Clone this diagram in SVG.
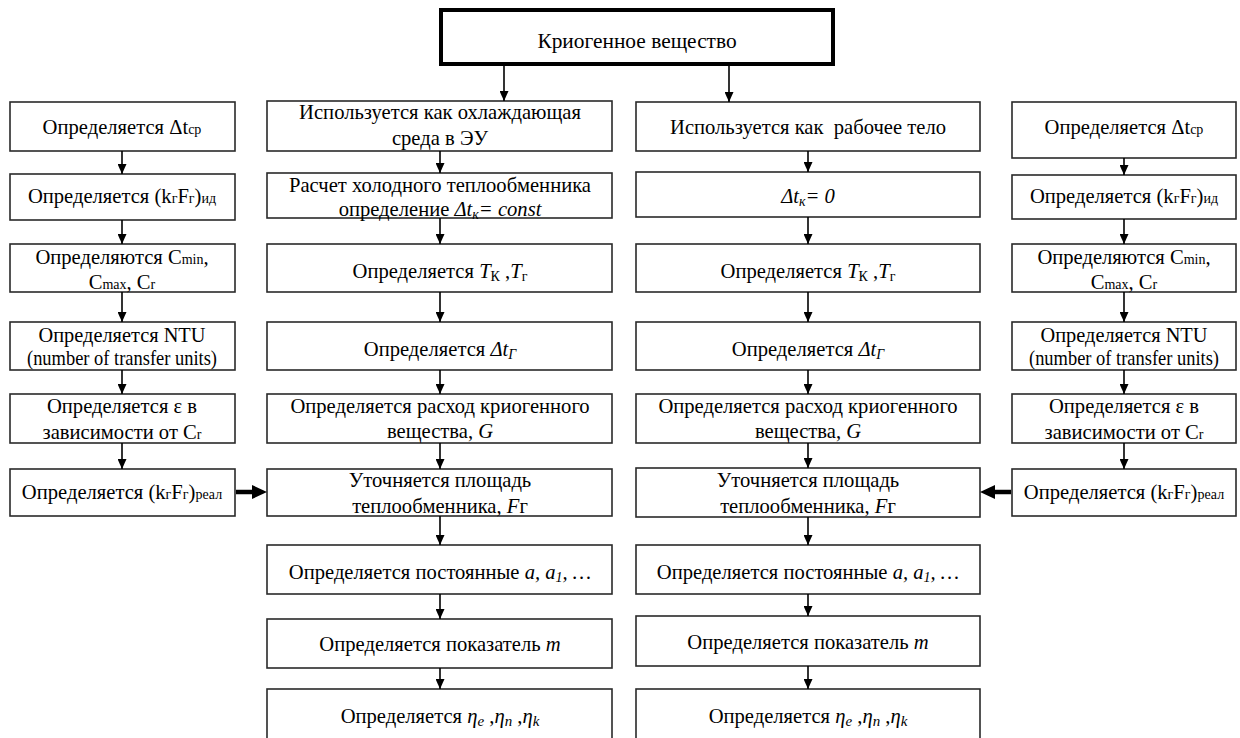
<svg xmlns="http://www.w3.org/2000/svg" width="1240" height="738" viewBox="0 0 1240 738">
<style>
  .box { fill: #ffffff; stroke: #2a2a2a; stroke-width: 1.6; }
  .top { fill: #ffffff; stroke: #000000; stroke-width: 4; }
  text { font-family: "Liberation Serif", "Times New Roman", "DejaVu Serif", serif; font-size: 20.6px; fill: #000000; text-anchor: middle; }
  .t { font-size: 21.4px; }
  .s { font-size: 14px; }
  .e { font-size: 15px; }
  .i { font-style: italic; }
  .c { stroke: #000000; stroke-width: 1.6; fill: none; }
  .thick { stroke: #000000; stroke-width: 4.5; fill: none; }
</style>
<defs>
  <marker id="ah" markerUnits="userSpaceOnUse" markerWidth="10" markerHeight="9" refX="10" refY="4.5" orient="auto">
    <path d="M0,0 L10,4.5 L0,9 z" fill="#000000"/>
  </marker>
  <marker id="ahb" markerUnits="userSpaceOnUse" markerWidth="15" markerHeight="14" refX="3" refY="7" orient="auto">
    <path d="M0,0 L15,7 L0,14 z" fill="#000000"/>
  </marker>
</defs>
<rect width="1240" height="738" fill="#ffffff"/>

<g id="n-top">
  <rect class="top" x="441" y="10" width="392" height="54"/>
  <text class="t" x="637" y="48">Криогенное вещество</text>
</g>

<!-- Left column -->
<g id="n-l1">
  <rect class="box" x="10" y="102" width="225" height="49"/>
  <text x="122" y="134">Определяется Δt<tspan class="s">ср</tspan></text>
</g>
<g id="n-l2">
  <rect class="box" x="10" y="174" width="225" height="46"/>
  <text x="122" y="203">Определяется (k<tspan class="s">г</tspan>F<tspan class="s">г</tspan>)<tspan class="s">ид</tspan></text>
</g>
<g id="n-l3">
  <rect class="box" x="10" y="244" width="225" height="48"/>
  <text x="122" y="264">Определяются C<tspan class="s">min</tspan>,</text>
  <text x="122" y="289">C<tspan class="s">max</tspan>, C<tspan class="s">r</tspan></text>
</g>
<g id="n-l4">
  <rect class="box" x="10" y="322" width="225" height="48"/>
  <text x="122" y="342" textLength="167" lengthAdjust="spacingAndGlyphs">Определяется NTU</text>
  <text x="122" y="365" textLength="190" lengthAdjust="spacingAndGlyphs">(number of transfer units)</text>
</g>
<g id="n-l5">
  <rect class="box" x="10" y="394" width="225" height="49"/>
  <text x="122" y="413">Определяется ε в</text>
  <text x="122" y="439">зависимости от C<tspan class="s">r</tspan></text>
</g>
<g id="n-l6">
  <rect class="box" x="10" y="469" width="225" height="47"/>
  <text x="122" y="499">Определяется (k<tspan class="s">г</tspan>F<tspan class="s">г</tspan>)<tspan class="s">реал</tspan></text>
</g>

<!-- Center-left column -->
<g id="n-a1">
  <rect class="box" x="267" y="101" width="345" height="50"/>
  <text x="440" y="119">Используется как охлаждающая</text>
  <text x="440" y="145">среда в ЭУ</text>
</g>
<g id="n-a2">
  <rect class="box" x="267" y="173" width="345" height="45"/>
  <text x="440" y="192">Расчет холодного теплообменника</text>
  <text x="440" y="216">определение <tspan class="i">Δt</tspan><tspan class="i s" dy="3">к</tspan><tspan class="i" dy="-3">= const</tspan></text>
</g>
<g id="n-a3">
  <rect class="box" x="267" y="244" width="345" height="48"/>
  <text x="440" y="278">Определяется <tspan class="i">T</tspan><tspan class="s" dy="3">К</tspan><tspan dy="-3"> ,</tspan><tspan class="i">T</tspan><tspan class="s" dy="3">г</tspan></text>
</g>
<g id="n-a4">
  <rect class="box" x="267" y="322" width="345" height="48"/>
  <text x="440" y="356">Определяется <tspan class="i">Δt</tspan><tspan class="i s" dy="3">Γ</tspan></text>
</g>
<g id="n-a5">
  <rect class="box" x="267" y="394" width="345" height="49"/>
  <text x="440" y="413">Определяется расход криогенного</text>
  <text x="440" y="438">вещества, <tspan class="i">G</tspan></text>
</g>
<g id="n-a6">
  <rect class="box" x="267" y="469" width="345" height="47"/>
  <text x="440" y="487">Уточняется площадь</text>
  <text x="440" y="513">теплообменника, <tspan class="i">F</tspan>г</text>
</g>
<g id="n-a7">
  <rect class="box" x="267" y="545" width="345" height="49"/>
  <text x="440" y="579">Определяется постоянные <tspan class="i">a, a</tspan><tspan class="i s" dy="3">1</tspan><tspan class="i" dy="-3">, …</tspan></text>
</g>
<g id="n-a8">
  <rect class="box" x="267" y="619" width="345" height="49"/>
  <text x="440" y="651">Определяется показатель <tspan class="i">m</tspan></text>
</g>
<g id="n-a9">
  <rect class="box" x="267" y="689" width="345" height="52"/>
  <text x="440" y="723">Определяется <tspan class="i">η</tspan><tspan class="i e" dy="3">e</tspan><tspan dy="-3"> ,</tspan><tspan class="i">η</tspan><tspan class="i e" dy="3">n</tspan><tspan dy="-3"> ,</tspan><tspan class="i">η</tspan><tspan class="i e" dy="3">k</tspan></text>
</g>

<!-- Center-right column -->
<g id="n-b1">
  <rect class="box" x="636" y="102" width="344" height="49"/>
  <text x="808" y="134" style="white-space:pre">Используется как  рабочее тело</text>
</g>
<g id="n-b2">
  <rect class="box" x="636" y="172" width="344" height="45"/>
  <text x="808" y="203"><tspan class="i">Δt</tspan><tspan class="i s" dy="3">к</tspan><tspan class="i" dy="-3">= 0</tspan></text>
</g>
<g id="n-b3">
  <rect class="box" x="636" y="244" width="344" height="48"/>
  <text x="808" y="278">Определяется <tspan class="i">T</tspan><tspan class="s" dy="3">К</tspan><tspan dy="-3"> ,</tspan><tspan class="i">T</tspan><tspan class="s" dy="3">г</tspan></text>
</g>
<g id="n-b4">
  <rect class="box" x="636" y="322" width="344" height="48"/>
  <text x="808" y="356">Определяется <tspan class="i">Δt</tspan><tspan class="i s" dy="3">Γ</tspan></text>
</g>
<g id="n-b5">
  <rect class="box" x="636" y="394" width="344" height="49"/>
  <text x="808" y="413">Определяется расход криогенного</text>
  <text x="808" y="438">вещества, <tspan class="i">G</tspan></text>
</g>
<g id="n-b6">
  <rect class="box" x="636" y="468" width="344" height="49"/>
  <text x="808" y="487">Уточняется площадь</text>
  <text x="808" y="513">теплообменника, <tspan class="i">F</tspan>г</text>
</g>
<g id="n-b7">
  <rect class="box" x="636" y="545" width="344" height="49"/>
  <text x="808" y="579">Определяется постоянные <tspan class="i">a, a</tspan><tspan class="i s" dy="3">1</tspan><tspan class="i" dy="-3">, …</tspan></text>
</g>
<g id="n-b8">
  <rect class="box" x="636" y="616" width="344" height="50"/>
  <text x="808" y="649">Определяется показатель <tspan class="i">m</tspan></text>
</g>
<g id="n-b9">
  <rect class="box" x="636" y="689" width="344" height="52"/>
  <text x="808" y="723">Определяется <tspan class="i">η</tspan><tspan class="i e" dy="3">e</tspan><tspan dy="-3"> ,</tspan><tspan class="i">η</tspan><tspan class="i e" dy="3">n</tspan><tspan dy="-3"> ,</tspan><tspan class="i">η</tspan><tspan class="i e" dy="3">k</tspan></text>
</g>

<!-- Right column -->
<g id="n-r1">
  <rect class="box" x="1012" y="102" width="224" height="56"/>
  <text x="1124" y="134">Определяется Δt<tspan class="s">ср</tspan></text>
</g>
<g id="n-r2">
  <rect class="box" x="1012" y="175" width="224" height="44"/>
  <text x="1124" y="203">Определяется (k<tspan class="s">г</tspan>F<tspan class="s">г</tspan>)<tspan class="s">ид</tspan></text>
</g>
<g id="n-r3">
  <rect class="box" x="1012" y="244" width="224" height="48"/>
  <text x="1124" y="264">Определяются C<tspan class="s">min</tspan>,</text>
  <text x="1124" y="289">C<tspan class="s">max</tspan>, C<tspan class="s">r</tspan></text>
</g>
<g id="n-r4">
  <rect class="box" x="1012" y="322" width="224" height="48"/>
  <text x="1124" y="342" textLength="167" lengthAdjust="spacingAndGlyphs">Определяется NTU</text>
  <text x="1124" y="365" textLength="190" lengthAdjust="spacingAndGlyphs">(number of transfer units)</text>
</g>
<g id="n-r5">
  <rect class="box" x="1012" y="394" width="224" height="49"/>
  <text x="1124" y="413">Определяется ε в</text>
  <text x="1124" y="439">зависимости от C<tspan class="s">r</tspan></text>
</g>
<g id="n-r6">
  <rect class="box" x="1012" y="469" width="224" height="47"/>
  <text x="1124" y="499">Определяется (k<tspan class="s">г</tspan>F<tspan class="s">г</tspan>)<tspan class="s">реал</tspan></text>
</g>

<g id="connectors">
  <line class="c" x1="504" y1="66" x2="504" y2="101" marker-end="url(#ah)"/>
  <line class="c" x1="729" y1="66" x2="729" y2="102" marker-end="url(#ah)"/>

  <line class="c" x1="122" y1="151" x2="122" y2="174" marker-end="url(#ah)"/>
  <line class="c" x1="122" y1="220" x2="122" y2="244" marker-end="url(#ah)"/>
  <line class="c" x1="122" y1="292" x2="122" y2="322" marker-end="url(#ah)"/>
  <line class="c" x1="122" y1="370" x2="122" y2="394" marker-end="url(#ah)"/>
  <line class="c" x1="122" y1="443" x2="122" y2="469" marker-end="url(#ah)"/>

  <line class="c" x1="440" y1="151" x2="440" y2="173" marker-end="url(#ah)"/>
  <line class="c" x1="440" y1="218" x2="440" y2="244" marker-end="url(#ah)"/>
  <line class="c" x1="440" y1="292" x2="440" y2="322" marker-end="url(#ah)"/>
  <line class="c" x1="440" y1="370" x2="440" y2="394" marker-end="url(#ah)"/>
  <line class="c" x1="440" y1="443" x2="440" y2="469" marker-end="url(#ah)"/>
  <line class="c" x1="440" y1="516" x2="440" y2="545" marker-end="url(#ah)"/>
  <line class="c" x1="440" y1="594" x2="440" y2="619" marker-end="url(#ah)"/>
  <line class="c" x1="440" y1="668" x2="440" y2="689" marker-end="url(#ah)"/>

  <line class="c" x1="808" y1="151" x2="808" y2="172" marker-end="url(#ah)"/>
  <line class="c" x1="808" y1="217" x2="808" y2="244" marker-end="url(#ah)"/>
  <line class="c" x1="808" y1="292" x2="808" y2="322" marker-end="url(#ah)"/>
  <line class="c" x1="808" y1="370" x2="808" y2="394" marker-end="url(#ah)"/>
  <line class="c" x1="808" y1="443" x2="808" y2="468" marker-end="url(#ah)"/>
  <line class="c" x1="808" y1="517" x2="808" y2="545" marker-end="url(#ah)"/>
  <line class="c" x1="808" y1="594" x2="808" y2="616" marker-end="url(#ah)"/>
  <line class="c" x1="808" y1="666" x2="808" y2="689" marker-end="url(#ah)"/>

  <line class="c" x1="1124" y1="158" x2="1124" y2="175" marker-end="url(#ah)"/>
  <line class="c" x1="1124" y1="219" x2="1124" y2="244" marker-end="url(#ah)"/>
  <line class="c" x1="1124" y1="292" x2="1124" y2="322" marker-end="url(#ah)"/>
  <line class="c" x1="1124" y1="370" x2="1124" y2="394" marker-end="url(#ah)"/>
  <line class="c" x1="1124" y1="443" x2="1124" y2="469" marker-end="url(#ah)"/>

  <line class="thick" x1="236" y1="492" x2="255" y2="492" marker-end="url(#ahb)"/>
  <line class="thick" x1="1011" y1="492" x2="992" y2="492" marker-end="url(#ahb)"/>
</g>
</svg>
